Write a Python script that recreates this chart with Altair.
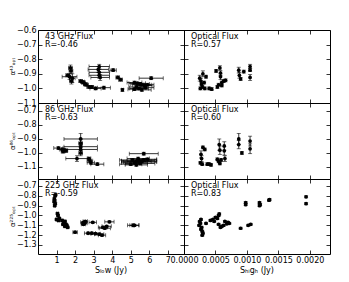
import altair as alt
import pandas as pd

FONT = "DejaVu Sans"

# ---------------- data ----------------
# Row 1 : alpha_opt^43
p1_x = [1.60, 1.75, 1.78, 1.70, 1.85, 1.80, 2.30, 2.40, 2.45, 2.55, 2.60, 2.75, 2.90,
        3.30, 3.25, 3.30, 3.30, 3.35, 4.05, 4.30, 4.45, 3.10, 3.55, 4.55,
        5.20, 5.35, 5.50, 5.60, 5.75, 5.30, 5.45, 5.60, 5.80, 5.20, 5.90, 6.10]
p1_y = [-0.91, -0.86, -0.88, -0.92, -0.93, -0.95, -0.95, -0.955, -0.96, -0.97, -0.975, -0.99, -0.99,
        -0.85, -0.87, -0.89, -0.91, -0.925, -0.875, -0.925, -0.94, -1.00, -0.995, -1.01,
        -0.96, -0.965, -0.97, -0.975, -0.98, -0.99, -1.00, -1.01, -0.995, -1.005, -0.975, -0.93]
p1_xerr = [0.10, 0.10, 0.10, 0.40, 0.15, 0.10, 0.10, 0.10, 0.10, 0.10, 0.12, 0.12, 0.10,
           0.55, 0.55, 0.55, 0.55, 0.50, 0.17, 0.10, 0.10, 0.30, 0.35, 0.05,
           0.40, 0.45, 0.50, 0.50, 0.40, 0.40, 0.50, 0.50, 0.45, 0.35, 0.35, 0.65]
p1_yerr = [0.01, 0.02, 0.02, 0.02, 0.03, 0.02, 0.01, 0.01, 0.01, 0.01, 0.01, 0.01, 0.01,
           0.015, 0.02, 0.02, 0.02, 0.02, 0.01, 0.01, 0.01, 0.01, 0.01, 0.01,
           0.01, 0.01, 0.01, 0.01, 0.01, 0.01, 0.01, 0.01, 0.01, 0.01, 0.01, 0.01]

p2_x = [0.00025, 0.00027, 0.00028, 0.00030, 0.00029, 0.00032, 0.00035, 0.00033, 0.00026,
        0.00040, 0.00044, 0.00051, 0.00057, 0.00058, 0.00058, 0.00055, 0.00060, 0.00063,
        0.00066, 0.00060, 0.00053, 0.00087, 0.00088, 0.00090, 0.00095, 0.00105, 0.00105, 0.00105]
p2_y = [-0.93, -0.95, -0.97, -0.90, -0.99, -0.96, -0.92, -1.00, -1.00,
        -1.00, -1.005, -0.88, -0.86, -0.895, -0.92, -0.975, -0.96, -0.95,
        -0.945, -0.98, -0.99, -0.875, -0.91, -0.935, -0.885, -0.85, -0.875, -0.925]
p2_yerr = [0.02, 0.02, 0.01, 0.02, 0.01, 0.01, 0.01, 0.01, 0.01,
           0.01, 0.01, 0.01, 0.015, 0.015, 0.02, 0.01, 0.01, 0.01,
           0.01, 0.01, 0.01, 0.02, 0.02, 0.01, 0.01, 0.015, 0.01, 0.02]

# Row 2 : alpha_opt^86
p3_x = [2.30, 2.30, 2.30, 2.30, 2.30, 1.10, 1.30, 1.45, 1.50, 1.35,
        2.10, 2.75, 2.80, 2.85, 3.20,
        5.10, 5.30, 5.40, 5.50, 5.20, 5.60, 5.70, 5.00, 5.30, 5.50, 5.90, 5.40, 5.70]
p3_y = [-0.90, -0.93, -0.955, -0.975, -1.00, -0.965, -0.975, -0.98, -0.985, -0.99,
        -1.04, -1.04, -1.055, -1.07, -1.08,
        -1.05, -1.06, -1.055, -1.065, -1.07, -1.06, -1.05, -1.08, -1.085, -1.075, -1.045, -1.04, -1.005]
p3_xerr = [0.90, 0.10, 0.90, 0.90, 0.10, 0.25, 0.15, 0.15, 0.10, 0.10,
           0.60, 0.10, 0.15, 0.20, 0.35,
           0.70, 0.80, 0.90, 0.90, 0.70, 0.80, 0.70, 0.60, 0.60, 0.80, 0.50, 0.60, 0.78]
p3_yerr = [0.04, 0.03, 0.03, 0.03, 0.02, 0.01, 0.01, 0.01, 0.01, 0.01,
           0.02, 0.01, 0.01, 0.01, 0.01,
           0.01, 0.01, 0.01, 0.01, 0.01, 0.01, 0.01, 0.01, 0.01, 0.01, 0.01, 0.01, 0.01]

p4_x = [0.00030, 0.00033, 0.00027, 0.00028, 0.00026, 0.00029, 0.00040, 0.00043, 0.00037,
        0.00053, 0.00055, 0.00057, 0.00059, 0.00056, 0.00057, 0.00064, 0.00064, 0.00065,
        0.00087, 0.00087, 0.00092, 0.00105, 0.00105]
p4_y = [-0.96, -0.975, -1.01, -1.04, -1.07, -1.08, -1.08, -1.085, -1.08,
        -1.045, -1.06, -1.075, -1.05, -0.94, -0.98, -0.95, -0.985, -1.04,
        -0.90, -0.94, -1.00, -0.915, -0.97]
p4_yerr = [0.01, 0.01, 0.025, 0.02, 0.01, 0.01, 0.01, 0.01, 0.01,
           0.01, 0.01, 0.01, 0.01, 0.04, 0.03, 0.03, 0.03, 0.02,
           0.04, 0.03, 0.01, 0.035, 0.035]

# Row 3 : alpha_opt^225
p5_x = [0.95, 0.92, 0.88, 0.90, 0.87, 0.93, 0.90, 1.05, 1.08, 1.00, 1.10, 1.15,
        1.30, 1.40, 1.45, 1.50, 1.55, 1.60, 1.35, 1.45, 2.00, 2.45, 2.50, 2.45, 2.55, 2.95,
        2.70, 2.90, 3.10, 3.30, 3.45, 3.50, 3.60, 3.70, 3.85, 5.13, 5.20]
p5_y = [-0.79, -0.80, -0.83, -0.85, -0.86, -0.88, -0.90, -0.98, -1.00, -1.04, -1.05, -1.03,
        -1.05, -1.07, -1.06, -1.09, -1.10, -1.12, -1.09, -1.11, -1.17, -1.07, -1.08, -1.09, -1.06, -1.07,
        -1.18, -1.18, -1.185, -1.19, -1.20, -1.12, -1.13, -1.11, -1.065, -1.10, -1.10]
p5_xerr = [0.04, 0.04, 0.04, 0.04, 0.04, 0.04, 0.04, 0.05, 0.05, 0.05, 0.05, 0.05,
           0.06, 0.06, 0.06, 0.06, 0.06, 0.06, 0.06, 0.06, 0.12, 0.15, 0.15, 0.12, 0.12, 0.20,
           0.20, 0.20, 0.25, 0.25, 0.20, 0.25, 0.30, 0.25, 0.25, 0.30, 0.25]
p5_yerr = [0.01, 0.01, 0.01, 0.01, 0.01, 0.01, 0.01, 0.01, 0.01, 0.01, 0.01, 0.01,
           0.01, 0.01, 0.01, 0.01, 0.01, 0.01, 0.01, 0.01, 0.01, 0.01, 0.01, 0.01, 0.01, 0.01,
           0.01, 0.01, 0.01, 0.01, 0.01, 0.01, 0.01, 0.01, 0.01, 0.015, 0.01]

p6_x = [0.00098, 0.00098, 0.00120, 0.00121, 0.00120, 0.00135, 0.00136, 0.00194, 0.00194,
        0.00025, 0.00027, 0.00026, 0.00024, 0.00028, 0.00027, 0.00029, 0.00030, 0.00029,
        0.00035, 0.00042, 0.00046, 0.00050, 0.00055, 0.00056, 0.00053, 0.00048,
        0.00055, 0.00060, 0.00063, 0.00068, 0.00072, 0.00058, 0.00065, 0.00070,
        0.00090, 0.00102, 0.00106]
p6_y = [-0.87, -0.89, -0.87, -0.89, -0.90, -0.845, -0.84, -0.81, -0.88,
        -1.06, -1.04, -1.08, -1.10, -1.12, -1.14, -1.16, -1.18, -1.20,
        -1.08, -1.05, -1.04, -1.02, -1.00, -0.985, -1.03, -1.06,
        -1.09, -1.11, -1.10, -1.085, -1.08, -1.12, -1.06, -1.07,
        -1.13, -1.10, -1.09]
p6_yerr = [0.01, 0.01, 0.01, 0.01, 0.01, 0.01, 0.01, 0.01, 0.01,
           0.01, 0.01, 0.01, 0.01, 0.01, 0.01, 0.01, 0.01, 0.01,
           0.01, 0.01, 0.01, 0.01, 0.01, 0.01, 0.01, 0.01,
           0.01, 0.01, 0.01, 0.01, 0.01, 0.01, 0.01, 0.01,
           0.01, 0.01, 0.01]

labels_left = ["43 GHz Flux\nR=-0.46", "86 GHz Flux\nR=-0.63", "225 GHz Flux\nR=-0.59"]
labels_right = ["Optical Flux\nR=0.57", "Optical Flux\nR=0.60", "Optical Flux\nR=0.83"]
ytitles = ["α⁴³ₒₚₜ", "α⁸⁶ₒₚₜ", "α²²⁵ₒₚₜ"]

low_domain = [0.0, 7.87]
high_domain = [0.0, 0.00232]
low_ticks = [1, 2, 3, 4, 5, 6, 7]
high_ticks = [0.0, 0.0005, 0.0010, 0.0015, 0.0020]
row_domains = [[-1.1, -0.6], [-1.186, -0.643], [-1.392, -0.629]]
row_ticks = [[-1.1, -1.0, -0.9, -0.8, -0.7, -0.6],
             [-1.1, -1.0, -0.9, -0.8, -0.7],
             [-1.3, -1.2, -1.1, -1.0, -0.9, -0.8, -0.7]]
row_heights = [73, 76, 75]
W = 146


def panel(x, y, xerr, yerr, xdom, ydom, xticks, yticks, xfmt, label, h,
          show_x, show_y, ytitle=None, xtitle=None):
    df = pd.DataFrame({"x": x, "y": y,
                       "xerr": xerr if xerr is not None else [0.0] * len(x),
                       "yerr": yerr})
    df["xlo"] = df["x"] - df["xerr"]
    df["xhi"] = df["x"] + df["xerr"]
    df["ylo"] = df["y"] - df["yerr"]
    df["yhi"] = df["y"] + df["yerr"]

    xs = alt.Scale(domain=xdom, nice=False, zero=False)
    ys = alt.Scale(domain=ydom, nice=False, zero=False)
    common = dict(grid=False, domain=False, ticks=True, tickSize=4, offset=-4,
                  tickColor="black", tickWidth=0.8, labelFontSize=8, labelFont=FONT,
                  labelColor="black", labelPadding=2, labelOverlap=False,
                  labelFlush=False, title=None, minExtent=0, maxExtent=200)
    xaxis = alt.Axis(orient="bottom", values=xticks, format=xfmt, labels=show_x, **common)
    yaxis = alt.Axis(orient="left", values=yticks, format=".1f", labels=show_y, **common)
    xaxis_t = alt.Axis(orient="top", values=xticks, labels=False, **common)
    yaxis_r = alt.Axis(orient="right", values=yticks, labels=False, **common)

    base = alt.Chart(df)
    X = lambda f, ax=None: alt.X(f, type="quantitative", scale=xs, axis=ax)
    Y = lambda f, ax=None: alt.Y(f, type="quantitative", scale=ys, axis=ax)

    layers = []
    layers.append(base.mark_point(opacity=0).encode(x=X("x", xaxis), y=Y("y", yaxis)))
    layers.append(base.mark_point(opacity=0).encode(x=X("x", xaxis_t), y=Y("y", yaxis_r)))
    if xerr is not None:
        xb = base.transform_filter("datum.xerr > 0")
        layers.append(xb.mark_rule(color="black", strokeWidth=0.8).encode(
            x=X("xlo"), x2="xhi", y=Y("y")))
        layers.append(xb.mark_tick(color="black", orient="vertical", size=4, thickness=0.8).encode(
            x=X("xlo"), y=Y("y")))
        layers.append(xb.mark_tick(color="black", orient="vertical", size=4, thickness=0.8).encode(
            x=X("xhi"), y=Y("y")))
    yb = base.transform_filter("datum.yerr > 0")
    layers.append(yb.mark_rule(color="black", strokeWidth=0.8).encode(
        x=X("x"), y=Y("ylo"), y2="yhi"))
    layers.append(yb.mark_tick(color="black", orient="horizontal", size=4, thickness=0.8).encode(
        x=X("x"), y=Y("ylo")))
    layers.append(yb.mark_tick(color="black", orient="horizontal", size=4, thickness=0.8).encode(
        x=X("x"), y=Y("yhi")))
    layers.append(base.mark_circle(color="black", size=14, opacity=1).encode(
        x=X("x"), y=Y("y")))

    tdf = pd.DataFrame({"t": [label]})
    layers.append(alt.Chart(tdf).mark_text(align="left", baseline="top", lineBreak="\n",
                                            fontSize=8, lineHeight=8, font=FONT, color="black").encode(
        x=alt.value(7), y=alt.value(3), text="t:N"))
    if ytitle is not None:
        ydf = pd.DataFrame({"t": [ytitle]})
        layers.append(alt.Chart(ydf).mark_text(angle=270, align="center", baseline="middle",
                                                fontSize=7, font=FONT, color="black").encode(
            x=alt.value(-25), y=alt.value(h / 2), text="t:N"))
    if xtitle is not None:
        xdf = pd.DataFrame({"t": [xtitle]})
        layers.append(alt.Chart(xdf).mark_text(align="center", baseline="middle",
                                                fontSize=8, font=FONT, color="black").encode(
            x=alt.value(W / 2), y=alt.value(h + 17), text="t:N"))

    return alt.layer(*layers).resolve_axis(x="independent", y="independent").properties(
        width=W, height=h)


panels = []
data_left = [(p1_x, p1_y, p1_xerr, p1_yerr), (p3_x, p3_y, p3_xerr, p3_yerr), (p5_x, p5_y, p5_xerr, p5_yerr)]
data_right = [(p2_x, p2_y, p2_yerr), (p4_x, p4_y, p4_yerr), (p6_x, p6_y, p6_yerr)]
for i in range(3):
    last = i == 2
    lx, ly, lxe, lye = data_left[i]
    rx, ry, rye = data_right[i]
    panels.append(panel(lx, ly, lxe, lye, low_domain, row_domains[i], low_ticks, row_ticks[i], "d",
                        labels_left[i], row_heights[i], last, True, ytitle=ytitles[i],
                        xtitle="Sₗₒw (Jy)" if last else None))
    panels.append(panel(rx, ry, None, rye, high_domain, row_domains[i], high_ticks, row_ticks[i], ".4f",
                        labels_right[i], row_heights[i], last, False,
                        xtitle="Sₕᵢgₕ (Jy)" if last else None))

chart = alt.concat(*panels, columns=2, spacing=0, bounds="flush").properties(
    padding={"left": 0, "top": 17, "right": 0, "bottom": 0}
).configure(font=FONT).configure_view(stroke="black", strokeWidth=1)

chart.save("out.html", embed_options={"renderer": "svg", "actions": False})
